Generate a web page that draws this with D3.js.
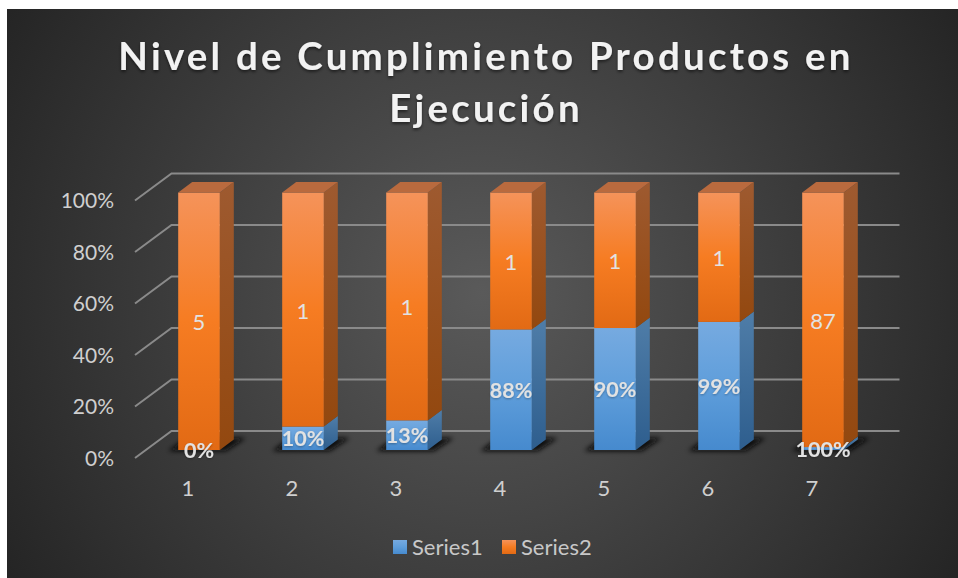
<!DOCTYPE html>
<html>
<head>
<meta charset="utf-8">
<script src="https://cdn.jsdelivr.net/npm/d3@7"></script>
<style>
  html, body { margin: 0; padding: 0; background: #fff; overflow: hidden; }
  svg { display: block; }
  text { font-family: Lato, "Open Sans", sans-serif; }
</style>
</head>
<body>
<div id="chart"></div>
<script>
const categories = ['1', '2', '3', '4', '5', '6', '7']
const series1 = [0, 0.1, 0.13, 0.88, 0.9, 0.99, 1]
const series2 = [5, 1, 1, 1, 1, 1, 87]
const series1Labels = ['0%', '10%', '13%', '88%', '90%', '99%', '100%']
const seriesNames = ['Series1', 'Series2']
const titleLines = ['Nivel de Cumplimiento Productos en', 'Ejecución']
const yTicks = [0, 0.2, 0.4, 0.6, 0.8, 1]

const width = 958
const height = 578
const panel = { x: 7, y: 9, width: 951, height: 569 }

// 3d look: the back wall sits up and right of the front plane, bars in between
const wall = { dx: 36.5, dy: -27 }
const barLift = -8
const barDepth = { dx: 14, dy: -10.5 }

const svg = d3.select('#chart').append('svg')
  .attr('width', width)
  .attr('height', height)

const defs = svg.append('defs')

const addGradient = (id, stops) => {
  const g = defs.append('linearGradient')
    .attr('id', id)
    .attr('x1', 0).attr('y1', 0)
    .attr('x2', 0).attr('y2', 1)
  stops.forEach(([offset, color]) => {
    g.append('stop').attr('offset', offset).attr('stop-color', color)
  })
}

addGradient('front0', [[0, '#76aae0'], [0.5, '#5f9edb'], [1, '#468ace']])
addGradient('side0', [[0, '#4f7da8'], [1, '#2e5e8e']])
addGradient('front1', [[0, '#f5935a'], [0.5, '#f67c22'], [1, '#e26a14']])
addGradient('side1', [[0, '#9e5a30'], [1, '#93480f']])

const bg = defs.append('radialGradient')
  .attr('id', 'bg')
  .attr('gradientUnits', 'userSpaceOnUse')
  .attr('cx', 482).attr('cy', 293).attr('r', 560)
bg.append('stop').attr('offset', 0).attr('stop-color', '#5a5a5a')
bg.append('stop').attr('offset', 1).attr('stop-color', '#242424')

defs.append('filter').attr('id', 'blur')
  .attr('filterUnits', 'userSpaceOnUse')
  .attr('x', 0).attr('y', 400).attr('width', width).attr('height', 80)
  .append('feGaussianBlur').attr('stdDeviation', 2.5)

const shadow = defs.append('filter').attr('id', 'textShadow')
  .attr('x', '-5%').attr('y', '-20%').attr('width', '110%').attr('height', '140%')
shadow.append('feDropShadow')
  .attr('dx', 0).attr('dy', 2).attr('stdDeviation', 1.5)
  .attr('flood-color', '#000').attr('flood-opacity', 0.5)

const labelShadow = defs.append('filter').attr('id', 'labelShadow')
  .attr('x', '-10%').attr('y', '-20%').attr('width', '120%').attr('height', '140%')
labelShadow.append('feDropShadow')
  .attr('dx', 0).attr('dy', 1).attr('stdDeviation', 1)
  .attr('flood-color', '#000').attr('flood-opacity', 0.3)

// panel
svg.append('rect')
  .attr('x', panel.x).attr('y', panel.y)
  .attr('width', panel.width).attr('height', panel.height)
  .attr('fill', 'url(#bg)')

// scales
const xScale = d3.scaleBand()
  .domain(categories)
  .range([147, 875])
  .paddingInner(0.6)
  .paddingOuter(0.3)

const yScale = d3.scaleLinear()
  .domain([0, 1])
  .range([458, 200.5])

const xLeft = xScale.range()[0] - 12
const xRight = xScale.range()[1] - 12

// gridlines on the wall and the side wall
const grid = svg.append('g')
  .attr('fill', 'none')
  .attr('stroke', '#8a8a8a')
  .attr('stroke-width', 2)

grid.selectAll('path')
  .data(yTicks)
  .join('path')
  .attr('d', (d) => d3.line()([
    [xLeft, yScale(d)],
    [xLeft + wall.dx, yScale(d) + wall.dy],
    [xRight + wall.dx, yScale(d) + wall.dy]
  ]))

// stacked data
const table = categories.map((c, i) => ({ cat: c, Series1: series1[i], Series2: series2[i] }))
const stacked = d3.stack()
  .keys(seriesNames)
  .offset(d3.stackOffsetExpand)(table)

// shadows under the bars, slanted like the floor
svg.append('g')
  .attr('fill', '#0a0a0a')
  .attr('filter', 'url(#blur)')
  .selectAll('path')
  .data(categories)
  .join('path')
  .attr('d', (d) => {
    const x = xScale(d)
    const w = xScale.bandwidth()
    const floor = yScale(0) + barLift
    return d3.line()([
      [x - 10, floor + 1],
      [x + w + 6, floor + 1],
      [x + w + 26, floor - 12],
      [x + 8, floor - 12]
    ]) + 'Z'
  })

// bars
const bars = svg.append('g')

stacked.forEach((layer, s) => {
  const g = bars.append('g')

  const x0 = (d) => xScale(d.data.cat)
  const x1 = (d) => x0(d) + xScale.bandwidth()
  const yLow = (d) => yScale(d[0]) + barLift
  const yHigh = (d) => yScale(d[1]) + barLift

  g.selectAll('path.side')
    .data(layer)
    .join('path')
    .attr('class', 'side')
    .attr('fill', `url(#side${s})`)
    .attr('d', (d) => d3.line()([
      [x1(d), yHigh(d)],
      [x1(d) + barDepth.dx, yHigh(d) + barDepth.dy],
      [x1(d) + barDepth.dx, yLow(d) + barDepth.dy],
      [x1(d), yLow(d)]
    ]) + 'Z')

  g.selectAll('rect.front')
    .data(layer)
    .join('rect')
    .attr('class', 'front')
    .attr('x', x0)
    .attr('y', yHigh)
    .attr('width', xScale.bandwidth())
    .attr('height', (d) => yLow(d) - yHigh(d))
    .attr('fill', `url(#front${s})`)
})

// top caps of the stack
bars.append('g')
  .selectAll('path')
  .data(stacked[1])
  .join('path')
  .attr('fill', '#b96a3e')
  .attr('d', (d) => {
    const x = xScale(d.data.cat)
    const y = yScale(1) + barLift
    const w = xScale.bandwidth()
    return d3.line()([
      [x, y],
      [x + barDepth.dx, y + barDepth.dy],
      [x + w + barDepth.dx, y + barDepth.dy],
      [x + w, y]
    ]) + 'Z'
  })

// data labels
const labels = svg.append('g')
  .attr('text-anchor', 'middle')
  .attr('fill', '#e2e2e2')

const labelX = (d) => xScale(d.data.cat) + xScale.bandwidth() / 2

labels.append('g')
  .selectAll('text')
  .data(stacked[1])
  .join('text')
  .attr('x', labelX)
  .attr('y', (d) => yScale((d[0] + d[1]) / 2) + barLift + 9)
  .attr('font-size', 22)
  .text((d) => d.data.Series2)

labels.append('g')
  .selectAll('text')
  .data(stacked[0])
  .join('text')
  .attr('x', labelX)
  .attr('y', (d) => yScale((d[0] + d[1]) / 2) + barLift + 8)
  .attr('font-size', 21.5)
  .attr('font-weight', 700)
  .attr('filter', 'url(#labelShadow)')
  .text((d, i) => series1Labels[i])

// y axis labels
svg.append('g')
  .attr('text-anchor', 'end')
  .attr('fill', '#cfcfcf')
  .selectAll('text')
  .data(yTicks)
  .join('text')
  .attr('x', 114)
  .attr('y', (d) => yScale(d) + 7.5)
  .attr('font-size', 21)
  .text(d3.format('.0%'))

// x axis labels
svg.append('g')
  .attr('text-anchor', 'middle')
  .attr('fill', '#cfcfcf')
  .selectAll('text')
  .data(categories)
  .join('text')
  .attr('x', (d) => xScale(d) + xScale.bandwidth() / 2 - 11)
  .attr('y', 496)
  .attr('font-size', 22)
  .text((d) => d)

// title
svg.append('g')
  .attr('text-anchor', 'middle')
  .attr('fill', '#f2f2f2')
  .attr('filter', 'url(#textShadow)')
  .selectAll('text')
  .data(titleLines)
  .join('text')
  .attr('x', 486)
  .attr('y', (d, i) => 70 + i * 52)
  .attr('font-size', 38.5)
  .attr('font-weight', 700)
  .attr('letter-spacing', 3.2)
  .text((d) => d)

// legend
const legendX = d3.scaleOrdinal().domain(seriesNames).range([393, 502])
const legendItems = svg.append('g')
  .selectAll('g')
  .data(seriesNames)
  .join('g')
  .attr('transform', (d) => `translate(${legendX(d)}, 540)`)

legendItems.append('rect')
  .attr('width', 14)
  .attr('height', 14)
  .attr('fill', (d, i) => `url(#front${i})`)

legendItems.append('text')
  .attr('x', 19)
  .attr('y', 14.5)
  .attr('font-size', 22)
  .attr('fill', '#c8c8c8')
  .text((d) => d)
</script>
</body>
</html>
